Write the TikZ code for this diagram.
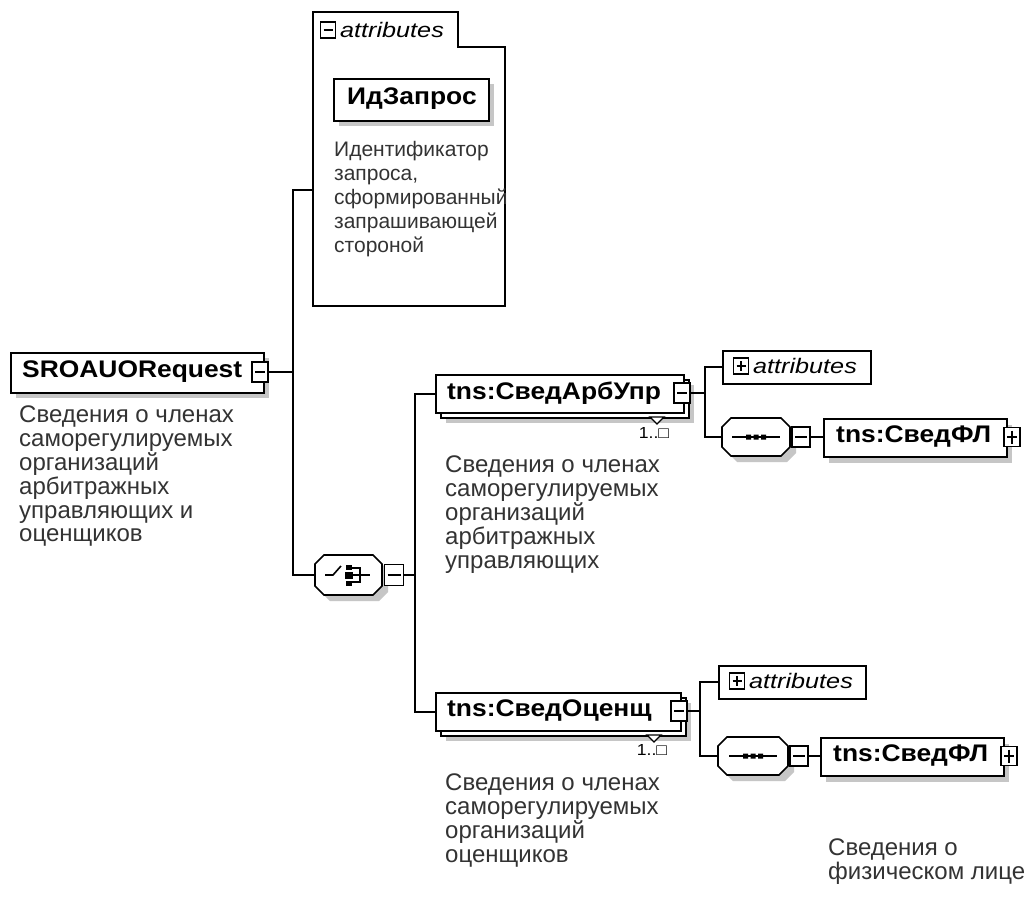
\documentclass[tikz,border=0pt]{standalone}
\usepackage{fontspec}
\setmainfont{Liberation Sans}
\newfontfamily\widefont[FakeStretch=1.1]{Liberation Sans}
\newfontfamily\wideitfont[FakeStretch=1.2]{Liberation Sans Italic}
\newcommand{\octpath}[5]{(#1+#5,#2) -- (#3-#5,#2) -- (#3,#2+#5) -- (#3,#4-#5) -- (#3-#5,#4) -- (#1+#5,#4) -- (#1,#4-#5) -- (#1,#2+#5) -- cycle}
\begin{document}
\begin{tikzpicture}[x=1pt,y=-1pt,line join=miter,
  elbox/.style={draw,line width=1.8pt,fill=white,inner sep=0pt,anchor=north west},
  backbox/.style={draw,line width=1.5pt,fill=white,inner sep=0pt,anchor=north west},
  shad/.style={fill=gray!45,draw=none},
  btn/.style={draw,line width=1.4pt,fill=white,minimum width=16pt,minimum height=20pt,inner sep=0pt},
  bminus/.style={path picture={\draw[line width=1.4pt] ([xshift=3pt]path picture bounding box.west) -- ([xshift=-3pt]path picture bounding box.east);}},
  bplus/.style={path picture={\draw[line width=1.4pt] ([xshift=3pt]path picture bounding box.west) -- ([xshift=-3pt]path picture bounding box.east) ([yshift=-3pt]path picture bounding box.north) -- ([yshift=3pt]path picture bounding box.south);}},
  eltext/.style={font=\widefont\fontsize{24}{26}\selectfont\bfseries,inner sep=0pt,anchor=west},
  attrtext/.style={font=\wideitfont\fontsize{21}{22}\selectfont,inner sep=0pt,anchor=west},
  desc/.style={font=\fontsize{24}{23.8}\selectfont,text=black!80,align=left,inner sep=0pt,anchor=north west},
  mult/.style={font=\widefont\fontsize{16}{18}\selectfont,inner sep=0pt},
  conn/.style={line width=1.8pt},
  comp/.style={line width=1.6pt,fill=white},
  hold/.style={inner sep=0pt,anchor=north west,draw=none}]
\useasboundingbox (0,0) rectangle (1030,918);
\fill[white] (0,0) rectangle (1030,918);

% ---------- root element ----------
\fill[shad] (16,358) rectangle (269,398);
\node[elbox,minimum width=253pt,minimum height=40pt] (root) at (10,352) {};
\node[eltext] (roott) at (22,372) {SROAUORequest};
\node[btn,bminus] (rootb) at (260,372) {};
\node[desc] (rootd) at (19,406) {Сведения о членах\\саморегулируемых\\организаций\\арбитражных\\управляющих и\\оценщиков};

% ---------- attributes panel ----------
\draw[line width=1.3pt,fill=white] (313,12) -- (458,12) -- (458,47) -- (505,47) -- (505,306) -- (313,306) -- cycle;
\node[btn,bminus,minimum width=15pt,minimum height=16pt] (attrb) at (328,30) {};
\node[attrtext] (attrt) at (340,30) {attributes};
\coordinate (attrin) at (313,190);
\fill[shad] (339,84) rectangle (494,126);
\node[elbox,minimum width=155pt,minimum height=42pt] (idz) at (333,78) {};
\node[eltext] (idzt) at (347,99) {ИдЗапрос};
\node[desc,font=\fontsize{21}{24}\selectfont] (idzd) at (334,141) {Идентификатор\\запроса,\\сформированный\\запрашивающей\\стороной};

% ---------- choice compositor ----------
\node[hold,minimum width=67pt,minimum height=40pt] (choice) at (315,555) {};
\fill[shad] \octpath{321}{561}{388}{601}{9};
\draw[comp] \octpath{315}{555}{382}{595}{9};
\draw[line width=1.6pt] (325,575) -- (333,575) -- (341,566);
\fill (346,565) rectangle (352,570);
\fill (345,572) rectangle (353,579);
\fill (346,581) rectangle (352,586);
\draw[line width=1.5pt] (352,568) -- (360,568) -- (360,582) -- (352,582) (353,575) -- (370,575);
\node[btn,bminus,minimum width=19pt,minimum height=21pt] (choiceb) at (394,575) {};

\coordinate (j1) at (293,372);
\draw[conn] (rootb.east) -- (j1);
\draw[conn] (j1) |- (attrin);
\draw[conn] (j1) |- (choice.west);

% ---------- tns:СведАрбУпр ----------
\fill[shad] (446,385) rectangle (694,423);
\node[backbox,minimum width=248pt,minimum height=38pt] (arbback) at (440,379) {};
\node[elbox,minimum width=248pt,minimum height=38pt] (arb) at (435,374) {};
\node[eltext] (arbt) at (447,393) {tns:СведАрбУпр};
\node[btn,bminus] (arbb) at (682,393) {};
\draw[line width=1.3pt,fill=white] (650,417) -- (664,417) -- (657,424) -- cycle;
\node[mult] (arbm) at (654,433) {1..□};
\node[desc] (arbd) at (445,456) {Сведения о членах\\саморегулируемых\\организаций\\арбитражных\\управляющих};

\coordinate (j2) at (415,575);
\draw[conn] (choiceb.east) -- (j2);
\draw[conn] (j2) |- (arb.west);

% attributes (collapsed)
\node[elbox,line width=1.5pt,minimum width=148pt,minimum height=33pt] (attr2) at (722,350) {};
\node[btn,bplus,minimum width=15pt,minimum height=16pt] (attr2b) at (741,366) {};
\node[attrtext] (attr2t) at (753,366) {attributes};

% sequence
\node[hold,minimum width=68pt,minimum height=38pt] (seq1) at (722,418) {};
\fill[shad] \octpath{728}{424}{796}{462}{9};
\draw[comp] \octpath{722}{418}{790}{456}{9};
\draw[line width=1.6pt] (732,437) -- (780,437);
\fill (746,434.5) rectangle (751,439.5) (753.5,434.5) rectangle (758.5,439.5) (761,434.5) rectangle (766,439.5);
\node[btn,bminus,minimum width=18pt,minimum height=20pt] (seq1b) at (801,437) {};

\fill[shad] (829,425) rectangle (1012,463);
\node[elbox,minimum width=183pt,minimum height=38pt] (fl1) at (823,418) {};
\node[eltext] (fl1t) at (836,437) {tns:СведФЛ};
\node[btn,bplus,minimum width=16pt,minimum height=19pt] (fl1b) at (1012,437) {};

\coordinate (j3) at (705,393);
\draw[conn] (arbb.east) -- (j3);
\draw[conn] (j3) |- (attr2.west);
\draw[conn] (j3) |- (seq1.west);
\draw[conn] (seq1b.east) -- (seq1b.east -| fl1.west);

% ---------- tns:СведОценщ ----------
\fill[shad] (446,703) rectangle (691,741);
\node[backbox,minimum width=245pt,minimum height=38pt] (otsback) at (440,697) {};
\node[elbox,minimum width=245pt,minimum height=38pt] (ots) at (435,692) {};
\node[eltext] (otst) at (447,711) {tns:СведОценщ};
\node[btn,bminus] (otsb) at (679,711) {};
\draw[line width=1.3pt,fill=white] (647,735) -- (661,735) -- (654,742) -- cycle;
\node[mult] (otsm) at (652,750) {1..□};
\node[desc] (otsd) at (445,774) {Сведения о членах\\саморегулируемых\\организаций\\оценщиков};

\draw[conn] (j2) |- (ots.west);

\node[elbox,line width=1.5pt,minimum width=147pt,minimum height=33pt] (attr3) at (718,665) {};
\node[btn,bplus,minimum width=15pt,minimum height=16pt] (attr3b) at (737,681) {};
\node[attrtext] (attr3t) at (749,681) {attributes};

\node[hold,minimum width=70pt,minimum height=38pt] (seq2) at (718,737) {};
\fill[shad] \octpath{724}{743}{794}{781}{9};
\draw[comp] \octpath{718}{737}{788}{775}{9};
\draw[line width=1.6pt] (729,756) -- (777,756);
\fill (743,753.5) rectangle (748,758.5) (750.5,753.5) rectangle (755.5,758.5) (758,753.5) rectangle (763,758.5);
\node[btn,bminus,minimum width=18pt,minimum height=20pt] (seq2b) at (799,756) {};

\fill[shad] (826,744) rectangle (1009,782);
\node[elbox,minimum width=183pt,minimum height=38pt] (fl2) at (820,737) {};
\node[eltext] (fl2t) at (833,756) {tns:СведФЛ};
\node[btn,bplus,minimum width=16pt,minimum height=19pt] (fl2b) at (1009,756) {};
\node[desc] (fl2d) at (828,839) {Сведения о\\физическом лице};

\coordinate (j4) at (700,711);
\draw[conn] (otsb.east) -- (j4);
\draw[conn] (j4) |- (attr3.west);
\draw[conn] (j4) |- (seq2.west);
\draw[conn] (seq2b.east) -- (seq2b.east -| fl2.west);
\end{tikzpicture}
\end{document}
